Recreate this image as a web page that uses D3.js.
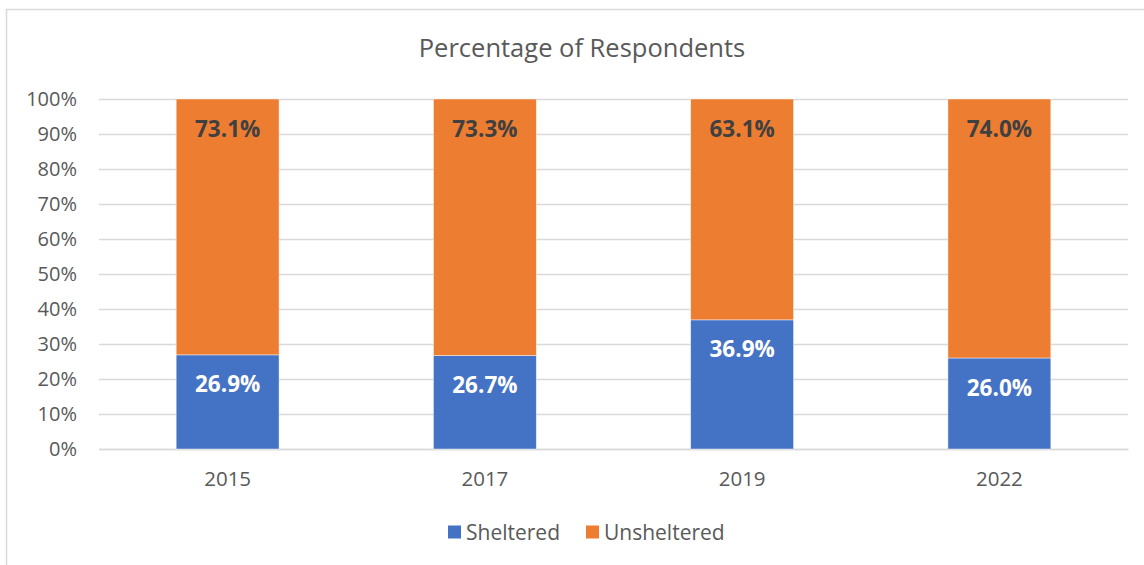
<!DOCTYPE html>
<html>
<head>
<meta charset="utf-8">
<script src="https://cdn.jsdelivr.net/npm/d3@7"></script>
<style>
  html, body { margin: 0; padding: 0; background: #fff; }
  svg { display: block; }
  text { font-family: "Open Sans", "Noto Sans", sans-serif; }
</style>
</head>
<body>
<svg id="chart" width="1144" height="565"></svg>
<script>
// Survey years and the share of respondents in each group (percent)
const years = ["2015", "2017", "2019", "2022"];
const sheltered = [26.9, 26.7, 36.9, 26.0];
const unsheltered = [73.1, 73.3, 63.1, 74.0];
const seriesNames = ["Sheltered", "Unsheltered"];
const yTicks = [0, 10, 20, 30, 40, 50, 60, 70, 80, 90, 100];

const colors = { Sheltered: "#4472C4", Unsheltered: "#ED7D31" };
const textGrey = "#595959";

const svg = d3.select("#chart");
const W = 1144, H = 565;
const margin = { left: 99, right: 16, top: 99, bottom: 116 };

// chart frame
svg.append("rect")
  .attr("x", 6.5).attr("y", 9.5)
  .attr("width", W + 20).attr("height", H + 20)
  .attr("fill", "#fff").attr("stroke", "#d9d9d9").attr("stroke-width", 1.5);

const x = d3.scaleBand()
  .domain(years)
  .range([margin.left, W - margin.right])
  .paddingInner(0.6)
  .paddingOuter(0.3);

const y = d3.scaleLinear()
  .domain([0, 100])
  .range([H - margin.bottom, margin.top]);

// horizontal gridlines
const yAxis = d3.axisLeft(y)
  .tickValues(yTicks)
  .tickFormat(d => d + "%")
  .tickSize(-(W - margin.right - margin.left))
  .tickPadding(22);

const gy = svg.append("g")
  .attr("transform", `translate(${margin.left},0)`)
  .call(yAxis);
gy.select(".domain").remove();
gy.selectAll(".tick line").attr("stroke", "#d9d9d9").attr("stroke-width", 1.5);
gy.selectAll(".tick text")
  .attr("fill", textGrey).attr("font-size", 20);

// category axis
const gx = svg.append("g")
  .attr("transform", `translate(0,${H - margin.bottom})`)
  .call(d3.axisBottom(x).tickSize(0).tickPadding(22));
gx.select(".domain").attr("stroke", "#d9d9d9").attr("stroke-width", 1.5);
gx.selectAll(".tick text").attr("fill", textGrey).attr("font-size", 20.5);

// stacked series
const rows = years.map((yr, i) => ({ year: yr, Sheltered: sheltered[i], Unsheltered: unsheltered[i] }));
const stack = d3.stack().keys(seriesNames)(rows);

const layers = svg.append("g").selectAll("g")
  .data(stack)
  .join("g")
  .attr("fill", d => colors[d.key]);

layers.selectAll("rect")
  .data(d => d)
  .join("rect")
  .attr("x", d => x(d.data.year))
  .attr("width", x.bandwidth())
  .attr("y", d => y(d[1]))
  .attr("height", d => y(d[0]) - y(d[1]))
  .attr("stroke", "#fff")
  .attr("stroke-opacity", 0.6)
  .attr("stroke-width", 0.75);

// value labels near the top of each segment
stack.forEach(layer => {
  svg.append("g").selectAll("text")
    .data(layer)
    .join("text")
    .attr("x", d => x(d.data.year) + x.bandwidth() / 2)
    .attr("y", d => y(d[1]) + 29)
    .attr("text-anchor", "middle")
    .attr("dominant-baseline", "central")
    .attr("font-size", 22.5)
    .attr("font-weight", "bold")
    .attr("fill", layer.key === "Sheltered" ? "#ffffff" : "#404040")
    .text(d => (d[1] - d[0]).toFixed(1) + "%");
});

// title
svg.append("text")
  .attr("x", 582).attr("y", 47)
  .attr("text-anchor", "middle")
  .attr("dominant-baseline", "central")
  .attr("font-size", 25.5)
  .attr("fill", textGrey)
  .text("Percentage of Respondents");

// legend
const legendPos = [448, 586];
const legend = svg.append("g").selectAll("g")
  .data(seriesNames)
  .join("g")
  .attr("transform", (d, i) => `translate(${legendPos[i]},532)`);
legend.append("rect")
  .attr("x", 0).attr("y", -6.5)
  .attr("width", 13).attr("height", 13)
  .attr("fill", d => colors[d]);
legend.append("text")
  .attr("x", 18).attr("y", 0)
  .attr("dominant-baseline", "central")
  .attr("font-size", 21)
  .attr("fill", textGrey)
  .text(d => d);
</script>
</body>
</html>
